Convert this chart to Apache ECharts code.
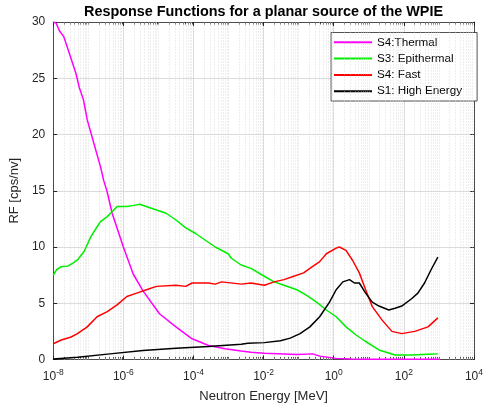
<!DOCTYPE html>
<html><head><meta charset="utf-8">
<script src="https://cdn.jsdelivr.net/npm/echarts@6/dist/echarts.min.js"></script>
<style>html,body{margin:0;padding:0;background:#fff}#c{width:486px;height:409px}</style>
</head><body><div id="c"></div>
<script>
// log10(E [MeV]) exponents and RF values [cps/nv]
const thermalExp = [-8,-7.92,-7.82,-7.7,-7.54,-7.35,-7.26,-7.14,-7.03,-6.84,-6.65,-6.56,-6.47,-6.32,-6.0,-5.72,-5.44,-4.97,-4.5,-4.04,-3.57,-3.1,-2.64,-2.36,-1.98,-1.05,-0.6,-0.4,0.07,0.5,1,2,3];
const thermalVal = [30.0,29.9,29.2,28.7,27.2,25.4,24.2,23.1,21.3,19.2,17.1,15.9,15.0,13.0,10.0,7.6,6.1,4.07,2.9,1.84,1.25,0.95,0.75,0.65,0.55,0.45,0.5,0.3,0.1,0.05,0.02,0.02,0.02];

const epiExp = [-8,-7.9,-7.77,-7.59,-7.45,-7.31,-7.12,-6.93,-6.75,-6.65,-6.46,-6.3,-6.18,-5.9,-5.7,-5.53,-5.35,-5.16,-4.78,-4.5,-4.22,-3.94,-3.66,-3.38,-3.01,-2.92,-2.64,-2.36,-1.98,-1.7,-1.42,-1.05,-0.77,-0.49,-0.21,0.07,0.35,0.63,0.91,1.29,1.75,2.22,2.69,2.97];
const epiVal = [7.5,8.0,8.25,8.3,8.55,8.85,9.6,10.9,11.8,12.25,12.7,13.2,13.6,13.6,13.7,13.8,13.6,13.4,13.0,12.4,11.7,11.2,10.6,10.0,9.4,9.0,8.4,8.1,7.4,6.9,6.6,6.2,5.7,5.1,4.4,3.8,2.9,2.2,1.6,0.85,0.4,0.4,0.46,0.5];

const fastExp = [-8,-7.77,-7.49,-7.31,-7.03,-6.75,-6.46,-6.18,-5.9,-5.62,-5.34,-5.06,-4.5,-4.22,-4.04,-3.57,-3.38,-3.2,-2.64,-2.36,-1.98,-1.7,-1.42,-1.14,-0.86,-0.68,-0.4,-0.21,0.07,0.16,0.35,0.54,0.73,0.91,1.1,1.38,1.66,1.94,2.31,2.69,2.97];
const fastVal = [1.4,1.73,2.0,2.3,2.9,3.8,4.25,4.85,5.6,5.9,6.2,6.5,6.6,6.5,6.8,6.8,6.7,6.9,6.7,6.8,6.6,6.9,7.1,7.4,7.7,8.1,8.7,9.4,9.9,10.0,9.7,8.8,7.7,6.2,4.7,3.5,2.5,2.3,2.5,2.9,3.7];

const highExp = [-8,-7.31,-6.38,-5.44,-4.5,-3.57,-2.64,-2.45,-1.98,-1.52,-1.24,-0.96,-0.68,-0.4,-0.12,0.07,0.26,0.45,0.59,0.73,0.91,1.1,1.29,1.57,1.75,1.94,2.22,2.4,2.59,2.78,2.97];
const highVal = [0.05,0.2,0.5,0.8,1.0,1.15,1.35,1.45,1.5,1.67,1.9,2.3,2.9,3.8,5.1,6.2,6.9,7.1,6.8,6.8,5.9,5.1,4.75,4.4,4.55,4.75,5.4,5.9,6.8,8.0,9.1];

const seriesNames = ['S4:Thermal','S3: Epithermal','S4: Fast','S1: High Energy'];
const seriesColors = ['#ff00ff','#00ee00','#ff0000','#000000'];
const yTicks = [0,5,10,15,20,25,30];

function pairs(ex, v){ return ex.map((e,i)=>[Math.pow(10,e), v[i]]); }
const allData = [pairs(thermalExp,thermalVal), pairs(epiExp,epiVal), pairs(fastExp,fastVal), pairs(highExp,highVal)];

// minor dotted grid positions in log10 space (k*10^n, excluding labelled decades)
const minorPos = [];
for (let n=-8;n<4;n++){ for (let k=1;k<10;k++){ if (k===1 && n%2===0) continue; minorPos.push(n+Math.log10(k)); } }
const minorLines = minorPos.map(p=>({xAxis:p}));
const minorTicks = [];
minorPos.forEach(p=>{
  minorTicks.push([{coord:[p,0]},{coord:[p,0.22]}]);
  minorTicks.push([{coord:[p,30]},{coord:[p,29.78]}]);
});

const axisColor = '#262626';
const FONT = 'Liberation Sans, Arial, sans-serif';
const chart = echarts.init(document.getElementById('c'), null, {renderer:'canvas'});
const series = allData.map((d,i)=>({
  name: seriesNames[i], type:'line', data:d, symbol:'none', z:5, xAxisIndex:0, yAxisIndex:0,
  lineStyle:{color:seriesColors[i], width:1.5}, itemStyle:{color:seriesColors[i]}
}));
series.unshift({
  name:'grid', type:'line', data:[], silent:true, z:1, xAxisIndex:2, yAxisIndex:0,
  markLine:{silent:true, symbol:['none','none'], label:{show:false},
    lineStyle:{color:'#d4d4d4', type:[1,2], width:0.8}, emphasis:{disabled:true},
    data:minorLines, animation:false}
});
series.unshift({
  name:'ticks', type:'line', data:[], silent:true, z:6, xAxisIndex:2, yAxisIndex:0,
  markLine:{silent:true, symbol:['none','none'], label:{show:false},
    lineStyle:{color:axisColor, type:'solid', width:0.8}, emphasis:{disabled:true},
    data:minorTicks, animation:false}
});
chart.setOption({
  animation:false,
  backgroundColor:'#fff',
  textStyle:{fontFamily:FONT},
  title:{text:'Response Functions for a planar source of the WPIE', left:258.5, textAlign:'center', top:0,
    textStyle:{fontSize:14.4, fontWeight:'bold', color:'#000', fontFamily:FONT}},
  legend:{data:seriesNames, orient:'vertical', left:331, top:32.5, itemWidth:38, itemHeight:2, itemGap:2.3,
    icon:'rect',
    padding:[2.8,15,2.8,3], backgroundColor:'#fff', borderColor:axisColor, borderWidth:0.8,
    textStyle:{fontSize:11.7, color:'#000', lineHeight:14, fontFamily:FONT}},
  grid:{left:49, top:22, width:429, height:337.5, containLabel:false},
  xAxis:[{
    type:'log', logBase:10, min:1e-8, max:1e4, interval:2, position:'bottom',
    name:'Neutron Energy [MeV]', nameLocation:'middle', nameGap:30,
    nameTextStyle:{fontSize:13, color:axisColor},
    axisLine:{show:true, onZero:false, lineStyle:{color:axisColor, width:0.8}},
    axisTick:{show:true, inside:true, length:4, lineStyle:{color:axisColor}},
    axisLabel:{margin:9, color:axisColor, fontSize:12,
      formatter:function(v){ const e=Math.round(Math.log10(v)); return '10{sup|'+e+'}'; },
      rich:{sup:{fontSize:8.5, padding:[0,0,8,0], color:axisColor}}},
    splitLine:{show:true, lineStyle:{color:'#dcdcdc', width:1}}
  },{
    type:'log', logBase:10, min:1e-8, max:1e4, interval:2, position:'top',
    axisLine:{show:true, onZero:false, lineStyle:{color:axisColor, width:0.8}},
    axisTick:{show:true, inside:true, length:4, lineStyle:{color:axisColor}},
    axisLabel:{show:false}, splitLine:{show:false}
  },{
    type:'value', min:-8, max:4, show:false, position:'bottom', axisLine:{onZero:false}
  }],
  yAxis:[{
    type:'value', min:0, max:30, interval:5, position:'left',
    name:'RF [cps/nv]', nameLocation:'middle', nameGap:24,
    nameTextStyle:{fontSize:13, color:axisColor},
    axisLine:{show:true, onZero:false, lineStyle:{color:axisColor, width:0.8}},
    axisTick:{show:true, inside:true, length:4, lineStyle:{color:axisColor}},
    axisLabel:{margin:8, color:axisColor, fontSize:12},
    splitLine:{show:true, lineStyle:{color:'#dcdcdc', width:1}}
  },{
    type:'value', min:0, max:30, interval:5, position:'right',
    axisLine:{show:true, onZero:false, lineStyle:{color:axisColor, width:0.8}},
    axisTick:{show:true, inside:true, length:4, lineStyle:{color:axisColor}},
    axisLabel:{show:false}, splitLine:{show:false}
  }],
  series: series
});
</script></body></html>
